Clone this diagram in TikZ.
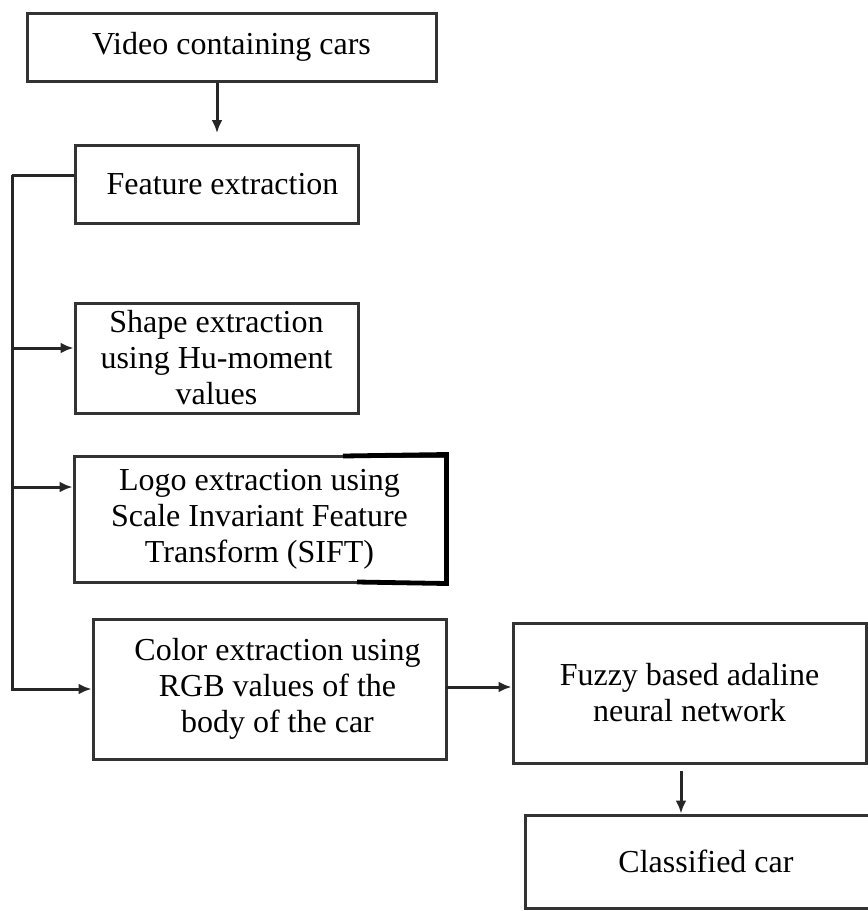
\documentclass[tikz,border=0pt]{standalone}
\usepackage{fontspec}
\setmainfont{Liberation Serif}
\usepackage{tikz}
\usetikzlibrary{arrows.meta}
\tikzset{box style/.style={draw=black!80,line width=1.5pt,rectangle,align=center,inner sep=0pt,font=\fontsize{16}{18}\selectfont}}
\tikzset{arr style/.style={draw=black!85,line width=1.5pt,-{Latex[length=6.5pt,width=5.5pt]}}}

\begin{document}
\begin{tikzpicture}[x=0.5pt,y=-0.5pt]
    \useasboundingbox (0,0) rectangle (868,911);
    \node[box style,minimum width=204.5pt,minimum height=34pt] (video) at (231.5,47) {Video containing cars};
    \node[box style,minimum width=141.5pt,minimum height=39pt] (feature) at (216.5,184) {\hspace*{6pt}Feature extraction};
    \node[box style,minimum width=141.5pt,minimum height=55pt] (shape) at (216.5,358) {Shape extraction\\using Hu-moment\\values};
    \node[box style,minimum width=185.5pt,minimum height=63pt] (logo) at (259.5,519) {Logo extraction using\\Scale Invariant Feature\\Transform (SIFT)};
    \node[box style,minimum width=176.5pt,minimum height=70pt] (color) at (269.5,689) {\hspace*{8pt}Color extraction using\\\hspace*{8pt}RGB values of the\\\hspace*{8pt}body of the car};
    \node[box style,minimum width=176.5pt,minimum height=70pt] (fuzzy) at (689.5,693) {Fuzzy based adaline\\neural network};
    \node[box style,minimum width=181pt,minimum height=46.5pt] (classified) at (706,861.5) {Classified car};
    % thick corner of the logo box
    \draw[black,line width=2.4pt] (343,456) -- (logo.north east) -- (logo.south east) -- (357,582);
    % connectors
    \coordinate (a1) at (217,133);
    \draw[arr style] (a1 |- video.south) -- (a1);
    \coordinate (bus) at (12,175);
    \draw[draw=black!85,line width=1.5pt] (bus -| feature.west) -- (bus);
    \draw[arr style] (bus) |- (color.west);
    \coordinate (b3) at (12,348);
    \coordinate (b4) at (12,487);
    \draw[arr style] (b3) -- (b3 -| shape.west);
    \draw[arr style] (b4) -- (b4 -| logo.west);
    \coordinate (c5) at (446,687);
    \draw[arr style] (c5) -- (c5 -| fuzzy.west);
    \coordinate (c6) at (681,771);
    \draw[arr style] (c6) -- (c6 |- classified.north);
\end{tikzpicture}
\end{document}
